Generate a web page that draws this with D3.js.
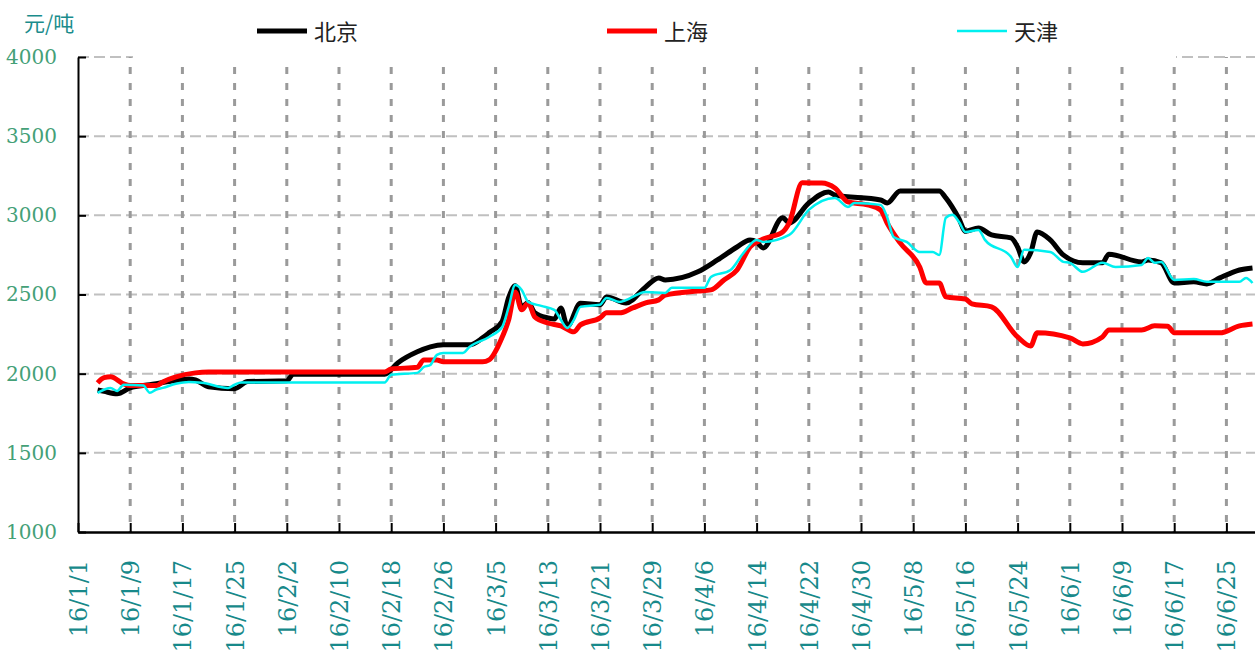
<!DOCTYPE html>
<html>
<head>
<meta charset="utf-8">
<script src="https://cdn.jsdelivr.net/npm/d3@7"></script>
<style>
  body { margin: 0; background: #fff; }
  svg { display: block; }
</style>
</head>
<body>
<div id="chart"></div>
<script>
// series: dates as shown on the axis (yy/m/d), prices in 元/吨
const seriesNames = ["北京", "上海", "天津"];

const bjDates = ["16/1/4","16/1/5","16/1/7","16/1/9","16/1/12","16/1/15","16/1/18","16/1/19","16/1/21","16/1/25",
  "16/1/27","16/2/2","16/2/3","16/2/17","16/2/19","16/2/22","16/2/24","16/2/26","16/3/1","16/3/3",
  "16/3/4","16/3/6","16/3/7","16/3/8","16/3/9","16/3/10","16/3/11","16/3/13","16/3/14","16/3/15",
  "16/3/16","16/3/18","16/3/21","16/3/22","16/3/25","16/3/28","16/3/30","16/3/31","16/4/5","16/4/8",
  "16/4/11","16/4/13","16/4/14","16/4/15","16/4/18","16/4/19","16/4/22","16/4/25","16/4/26","16/5/3",
  "16/5/4","16/5/6","16/5/12","16/5/13","16/5/15","16/5/16","16/5/18","16/5/20","16/5/23","16/5/24",
  "16/5/25","16/5/26","16/5/27","16/5/29","16/5/31","16/6/3","16/6/6","16/6/7","16/6/12","16/6/13",
  "16/6/15","16/6/17","16/6/20","16/6/22","16/6/24","16/6/27","16/6/29"];
const bjPrice = [1897,1888,1873,1910,1930,1950,1967,1960,1917,1905,
  1950,1955,1997,1997,2068,2138,2169,2182,2182,2226,
  2258,2330,2480,2555,2420,2450,2385,2352,2345,2415,
  2300,2445,2435,2485,2447,2548,2605,2592,2643,2718,
  2800,2845,2832,2794,2984,2952,3078,3148,3128,3097,
  3078,3154,3154,3110,2980,2900,2920,2876,2857,2800,
  2706,2763,2895,2845,2750,2700,2700,2755,2706,2718,
  2700,2573,2580,2567,2605,2655,2668];

const shDates = ["16/1/4","16/1/5","16/1/6","16/1/8","16/1/9","16/1/13","16/1/14","16/1/16","16/1/19","16/1/21",
  "16/2/17","16/2/18","16/2/22","16/2/23","16/2/25","16/2/26","16/3/3","16/3/4","16/3/6","16/3/7",
  "16/3/8","16/3/9","16/3/10","16/3/11","16/3/13","16/3/15","16/3/17","16/3/18","16/3/21","16/3/22",
  "16/3/24","16/3/26","16/3/28","16/3/30","16/3/31","16/4/5","16/4/7","16/4/9","16/4/11","16/4/13",
  "16/4/15","16/4/18","16/4/19","16/4/21","16/4/24","16/4/26","16/4/28","16/5/1","16/5/3","16/5/4",
  "16/5/6","16/5/9","16/5/10","16/5/12","16/5/13","16/5/16","16/5/17","16/5/20","16/5/24","16/5/26",
  "16/5/27","16/6/1","16/6/3","16/6/6","16/6/7","16/6/12","16/6/14","16/6/16","16/6/17","16/6/24",
  "16/6/27","16/6/29"];
const shPrice = [1942,1975,1980,1935,1925,1925,1948,1980,2005,2010,
  2010,2030,2040,2087,2087,2075,2075,2087,2230,2340,
  2516,2403,2447,2358,2320,2302,2264,2308,2352,2384,
  2384,2415,2447,2466,2497,2522,2529,2592,2655,2800,
  2850,2895,2952,3205,3205,3173,3085,3066,3034,2952,
  2826,2674,2573,2573,2485,2472,2441,2422,2232,2175,
  2258,2226,2188,2232,2276,2276,2302,2300,2258,2258,
  2302,2314];

const tjDates = ["16/1/4","16/1/6","16/1/7","16/1/8","16/1/11","16/1/12","16/1/13","16/1/14","16/1/16","16/1/18",
  "16/1/20","16/1/24","16/1/25","16/1/26","16/2/17","16/2/18","16/2/22","16/2/23","16/2/24","16/2/25",
  "16/2/26","16/2/29","16/3/1","16/3/4","16/3/6","16/3/7","16/3/8","16/3/9","16/3/10","16/3/12",
  "16/3/14","16/3/15","16/3/16","16/3/17","16/3/18","16/3/21","16/3/22","16/3/24","16/3/28","16/3/31",
  "16/4/1","16/4/6","16/4/7","16/4/10","16/4/12","16/4/14","16/4/15","16/4/19","16/4/22","16/4/26",
  "16/4/28","16/4/29","16/5/3","16/5/4","16/5/5","16/5/7","16/5/9","16/5/11","16/5/12","16/5/13",
  "16/5/14","16/5/15","16/5/16","16/5/18","16/5/19","16/5/23","16/5/24","16/5/25","16/5/29","16/5/31",
  "16/6/1","16/6/3","16/6/6","16/6/8","16/6/12","16/6/13","16/6/14","16/6/15","16/6/17","16/6/20",
  "16/6/22","16/6/27","16/6/28","16/6/29"];
const tjPrice = [1879,1910,1891,1930,1925,1880,1900,1910,1936,1948,
  1942,1910,1930,1945,1945,1993,2005,2042,2055,2119,
  2131,2131,2169,2232,2295,2420,2560,2529,2453,2428,
  2403,2340,2289,2340,2422,2435,2478,2453,2516,2510,
  2542,2542,2611,2655,2763,2845,2832,2876,3034,3110,
  3053,3078,3066,2990,2863,2832,2769,2769,2750,2985,
  3003,2960,2895,2908,2845,2737,2674,2782,2769,2706,
  2700,2643,2700,2674,2687,2731,2700,2706,2592,2598,
  2580,2580,2605,2573];

const yTicks = [1000,1500,2000,2500,3000,3500,4000];
const xStart = "16/1/1", xEnd = "16/6/30";
const tickStepDays = 8;

const W = 1255, H = 657;
const parse = d3.timeParse("%y/%m/%d");
const fmt = d3.timeFormat("%y/%-m/%-d");

const svg = d3.select("#chart").append("svg")
  .attr("width", W)
  .attr("height", H);

let x = d3.scaleTime()
  .domain([parse(xStart), parse(xEnd)])
  .range([78, 78 + 181 * 6.525]);
let y = d3.scaleLinear()
  .domain([1000, 4000])
  .range([532, 57]);

// one tick every 8 days counted from the first day
let xTicks = d3.range(0, 181, tickStepDays).map(d => d3.timeDay.offset(parse(xStart), d));

// horizontal grid
svg.append("g")
  .selectAll("line")
  .data(yTicks.filter(t => t > 1000))
  .join("line")
  .attr("x1", 78).attr("x2", W)
  .attr("y1", d => y(d)).attr("y2", d => y(d))
  .attr("stroke", "#c0c0c0")
  .attr("stroke-width", 2)
  .attr("stroke-dasharray", "11,5");

// vertical grid (drawn bottom to top)
svg.append("g")
  .selectAll("line")
  .data(xTicks.slice(1))
  .join("line")
  .attr("x1", d => x(d)).attr("x2", d => x(d))
  .attr("y1", 532).attr("y2", 57)
  .attr("stroke", "#9a9a9a")
  .attr("stroke-width", 3)
  .attr("stroke-dasharray", "7,9")
  .attr("stroke-dashoffset", 6);

// legend background hides the top grid line there
svg.append("rect")
  .attr("x", 133).attr("y", 0)
  .attr("width", 1043).attr("height", 62)
  .attr("fill", "#fff");

// axes
let yAxis = svg.append("g")
  .attr("transform", "translate(78,0)")
  .call(d3.axisLeft(y).tickValues(yTicks).tickFormat(d3.format("d"))
    .tickSizeInner(-8).tickSizeOuter(0).tickPadding(21))
  .attr("font-family", "DejaVu Serif")
  .attr("font-size", 20);
yAxis.select(".domain").attr("stroke", "#000").attr("stroke-width", 2);
yAxis.selectAll(".tick line").attr("stroke", "#000").attr("stroke-width", 2);
yAxis.selectAll(".tick text")
  .attr("fill", "#44a077");

let xAxis = svg.append("g")
  .attr("transform", "translate(0,532)")
  .call(d3.axisBottom(x).tickValues(xTicks).tickFormat(fmt).tickSizeInner(-9).tickSizeOuter(0))
  .attr("font-family", "DejaVu Serif")
  .attr("font-size", 24);
xAxis.select(".domain").attr("stroke", "#000").attr("stroke-width", 2.5);
xAxis.selectAll(".tick line").attr("stroke", "#000").attr("stroke-width", 2);
xAxis.selectAll(".tick text")
  .attr("transform", "rotate(-90)")
  .attr("x", -28)
  .attr("y", 0)
  .attr("dy", "0.35em")
  .attr("text-anchor", "end")
  .attr("fill", "#17898a");

// unit
svg.append("text")
  .attr("x", 24).attr("y", 31)
  .attr("fill", "#1a8c8c")
  .attr("font-family", "Noto Sans CJK SC")
  .attr("font-size", 21)
  .text("元/吨");

// lines
let line = d3.line()
  .x(d => x(d.date))
  .y(d => y(d.value))
  .curve(d3.curveMonotoneX);

function toPoints(dates, values){
  return dates.map((d, i) => ({date: parse(d), value: values[i]}));
}

let series = [
  {name: seriesNames[0], pts: toPoints(bjDates, bjPrice), color: "#000000", width: 5},
  {name: seriesNames[1], pts: toPoints(shDates, shPrice), color: "#ff0000", width: 5},
  {name: seriesNames[2], pts: toPoints(tjDates, tjPrice), color: "#00f0f0", width: 2.5}
];

series.forEach(s => {
  svg.append("path")
    .datum(s.pts)
    .attr("d", line)
    .attr("fill", "none")
    .attr("stroke", s.color)
    .attr("stroke-width", s.width)
    .attr("stroke-linejoin", "round");
});

// legend
let legendX = [257, 607, 957];
series.forEach((s, i) => {
  svg.append("line")
    .attr("x1", legendX[i]).attr("x2", legendX[i] + 50)
    .attr("y1", 31).attr("y2", 31)
    .attr("stroke", s.color)
    .attr("stroke-width", i == 2 ? 2.5 : 5);
  svg.append("text")
    .attr("x", legendX[i] + 57).attr("y", 40)
    .attr("fill", "#222")
    .attr("font-family", "Noto Sans CJK SC")
    .attr("font-size", 22)
    .text(s.name);
});
</script>
</body>
</html>
